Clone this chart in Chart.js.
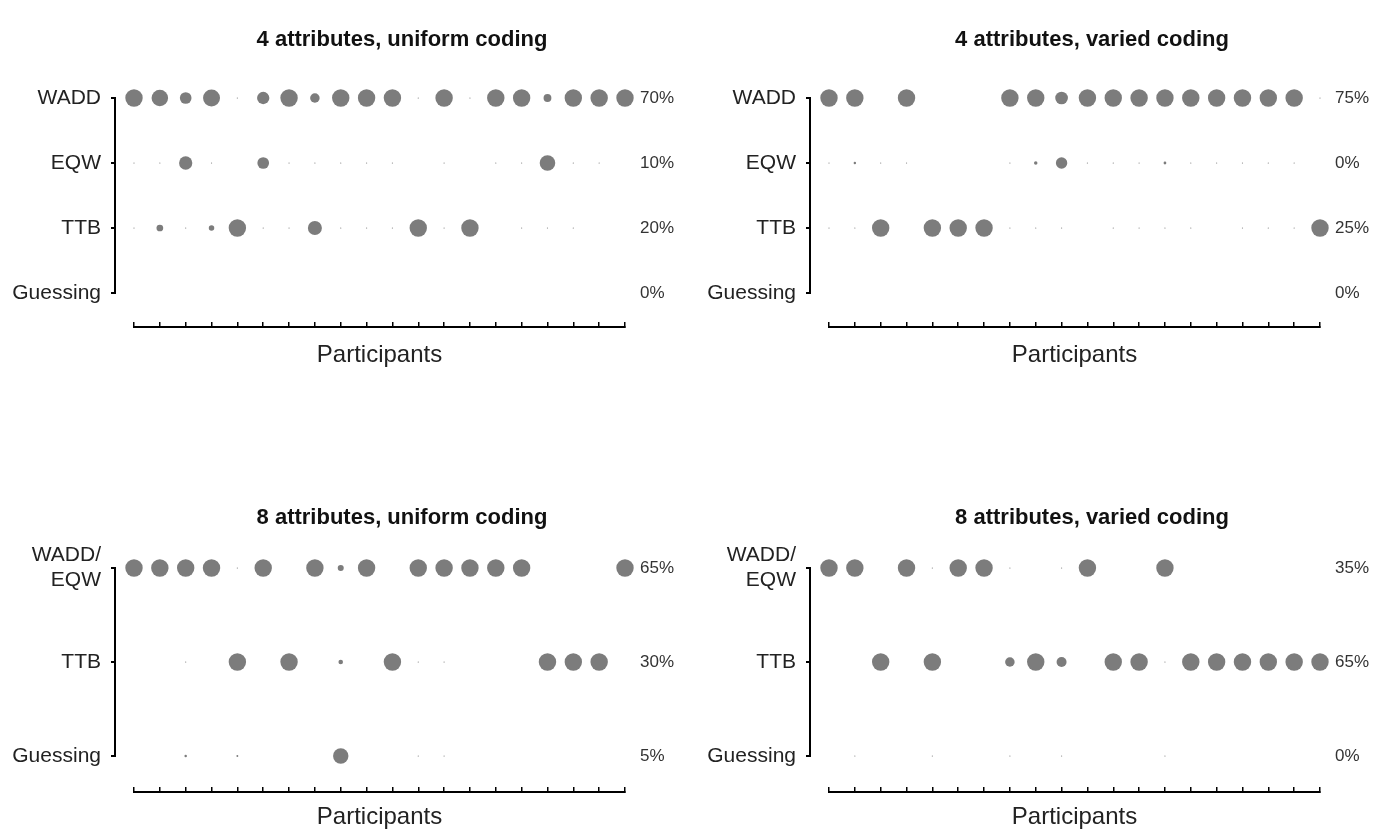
<!DOCTYPE html>
<html>
<head>
<meta charset="utf-8">
<title>Strategy classification per participant</title>
<script src="https://cdn.jsdelivr.net/npm/chart.js@4.4.1/dist/chart.umd.min.js"></script>
<style>
  html, body { margin: 0; padding: 0; background: #fff; overflow: hidden; width: 1384px; height: 832px; }
  canvas { position: absolute; }
</style>
</head>
<body>
<canvas id="uni4" style="left:0;top:0" width="804" height="416"></canvas>
<canvas id="var4" style="left:692px;top:0" width="800" height="416"></canvas>
<canvas id="uni8" style="left:0;top:416px" width="804" height="416"></canvas>
<canvas id="var8" style="left:692px;top:416px" width="800" height="416"></canvas>
<script>
// 1) data: posterior probability of each strategy, per participant (dot area)
const participants = [1, 2, 3, 4, 5, 6, 7, 8, 9, 10, 11, 12, 13, 14, 15, 16, 17, 18, 19, 20];

const rows4 = ['WADD', 'EQW', 'TTB', 'Guessing'];
const rows8 = [['WADD/', 'EQW'], 'TTB', 'Guessing'];

const uni4Title = '4 attributes, uniform coding';
const uni4WADD  = [1, .9, .45, .95, .005, .5, 1, .3, 1, 1, 1, .005, 1, .005, 1, 1, .2, 1, 1, 1];
const uni4EQW   = [.005, .005, .58, .005, 0, .45, .005, .005, .005, .005, .005, 0, .005, 0, .005, .005, .8, .005, .005, 0];
const uni4TTB   = [.005, .15, .005, .1, 1, .005, .005, .65, .005, .005, .005, 1, .005, 1, 0, .005, .005, .005, 0, 0];
const uni4Guess = [0, 0, 0, 0, 0, 0, 0, 0, 0, 0, 0, 0, 0, 0, 0, 0, 0, 0, 0, 0];
const uni4Pct   = ['70%', '10%', '20%', '0%'];

const var4Title = '4 attributes, varied coding';
const var4WADD  = [1, 1, 0, 1, 0, 0, 0, 1, 1, .53, 1, 1, 1, 1, 1, 1, 1, 1, 1, .005];
const var4EQW   = [.005, .02, .005, .005, 0, 0, 0, .005, .04, .43, .005, .005, .005, .025, .005, .005, .005, .005, .005, 0];
const var4TTB   = [.005, .005, 1, 0, 1, 1, 1, .005, .005, .005, 0, .005, .005, .005, .005, 0, .005, .005, .005, 1];
const var4Guess = [0, 0, 0, 0, 0, 0, 0, 0, 0, 0, 0, 0, 0, 0, 0, 0, 0, 0, 0, 0];
const var4Pct   = ['75%', '0%', '25%', '0%'];

const uni8Title = '8 attributes, uniform coding';
const uni8WE    = [1, 1, 1, 1, .005, 1, 0, 1, .12, 1, 0, 1, 1, 1, 1, 1, 0, 0, 0, 1];
const uni8TTB   = [0, 0, .005, 0, 1, 0, 1, 0, .07, 0, 1, .005, .005, 0, 0, 0, 1, 1, 1, 0];
const uni8Guess = [0, 0, .02, 0, .012, 0, 0, 0, .78, 0, 0, .005, .005, 0, 0, 0, 0, 0, 0, 0];
const uni8Pct   = ['65%', '30%', '5%'];

const var8Title = '8 attributes, varied coding';
const var8WE    = [1, 1, 0, 1, .005, 1, 1, .005, 0, .005, 1, 0, 0, 1, 0, 0, 0, 0, 0, 0];
const var8TTB   = [0, 0, 1, 0, 1, 0, 0, .3, 1, .33, 0, 1, 1, .005, 1, 1, 1, 1, 1, 1];
const var8Guess = [0, .005, 0, 0, .005, 0, 0, .005, 0, .005, 0, 0, 0, .005, 0, 0, 0, 0, 0, 0];
const var8Pct   = ['35%', '65%', '0%'];

// 2) look
const FONT = "'Liberation Sans', Arial, sans-serif";
const INK = '#222';
const DOT = '#7c7c7c';
const MAX_R = 8.7;

function radius(p) {
  if (!p) return 0;
  return Math.max(0.6, MAX_R * Math.sqrt(p));
}

// geometry of the two rows of panels (pixels inside each canvas)
const topRow = { titleTop: 26.8, titleBottom: 44.8, rowsH: 195, gapH: 34, axisH: 89, axisPadBottom: 46.6 };
const botRow = { titleTop: 88.8, titleBottom: 36.8, rowsH: 188, gapH: 36, axisH: 40, axisPadBottom: 0 };

// 3) one panel
function makePanel(id, title, rowLabels, series, pct, geo, leftW, rightW) {
  const n = rowLabels.length;
  const datasets = series.map((vals, k) => ({
    data: participants
      .map((p, i) => ({ x: p, y: n - 1 - k, r: radius(vals[i]) }))
      .filter(d => d.r > 0),
    xAxisID: 'x',
    yAxisID: 'y',
    backgroundColor: DOT,
    borderWidth: 0,
    clip: false
  }));

  // empty scales that only take room in an axis stack
  const blank = {
    type: 'linear',
    display: true,
    grid: { display: false, drawTicks: false },
    border: { display: false },
    ticks: { display: false }
  };

  new Chart(document.getElementById(id), {
    type: 'bubble',
    data: { datasets },
    options: {
      responsive: false,
      animation: false,
      devicePixelRatio: 1,
      events: [],
      layout: { padding: 0 },
      plugins: {
        legend: { display: false },
        tooltip: { enabled: false },
        title: {
          display: true, text: title, color: '#111',
          font: { family: FONT, size: 22, weight: 'bold' },
          padding: { top: geo.titleTop, bottom: geo.titleBottom }
        }
      },
      scales: {
        xGap: { ...blank, position: 'bottom', stack: 'h', stackWeight: 19,
          afterFit: s => { s.height = geo.axisH; } },
        x: {
          type: 'linear', position: 'bottom', stack: 'h', stackWeight: 491,
          min: 1, max: 20,
          ticks: { display: false, stepSize: 1 },
          grid: { display: true, drawOnChartArea: false, tickLength: -5, color: '#000', lineWidth: 1.5 },
          border: { display: true, color: '#000', width: 2 },
          title: {
            display: true, text: 'Participants', color: INK,
            font: { family: FONT, size: 24 },
            padding: { top: 0, bottom: geo.axisPadBottom }
          },
          afterFit: s => { s.height = geo.axisH; }
        },
        yGap: { ...blank, position: 'left', stack: 'v', stackWeight: geo.gapH,
          afterFit: s => { s.width = leftW; } },
        y: {
          type: 'linear', position: 'left', stack: 'v', stackWeight: geo.rowsH,
          min: 0, max: n - 1,
          ticks: {
            stepSize: 1, padding: 10, color: INK,
            font: { family: FONT, size: 21 },
            callback: v => rowLabels[n - 1 - v]
          },
          grid: { display: true, drawOnChartArea: false, tickLength: 4, color: '#000', lineWidth: 2 },
          border: { display: true, color: '#000', width: 2 },
          afterFit: s => { s.width = leftW; }
        },
        y2: {
          type: 'linear', position: 'right', stack: 'r', stackWeight: geo.rowsH,
          min: 0, max: n - 1,
          ticks: {
            stepSize: 1, padding: 15, color: '#333',
            font: { family: FONT, size: 17 },
            callback: v => pct[n - 1 - v]
          },
          grid: { display: false, drawTicks: false },
          border: { display: false },
          afterFit: s => { s.width = rightW; }
        },
        y2Gap: { ...blank, position: 'right', stack: 'r', stackWeight: geo.gapH,
          afterFit: s => { s.width = rightW; } }
      }
    }
  });
}

// 4) the four panels
makePanel('uni4', uni4Title, rows4, [uni4WADD, uni4EQW, uni4TTB, uni4Guess], uni4Pct, topRow, 115, 179);
makePanel('var4', var4Title, rows4, [var4WADD, var4EQW, var4TTB, var4Guess], var4Pct, topRow, 118, 172);
makePanel('uni8', uni8Title, rows8, [uni8WE, uni8TTB, uni8Guess], uni8Pct, botRow, 115, 179);
makePanel('var8', var8Title, rows8, [var8WE, var8TTB, var8Guess], var8Pct, botRow, 118, 172);
</script>
</body>
</html>
